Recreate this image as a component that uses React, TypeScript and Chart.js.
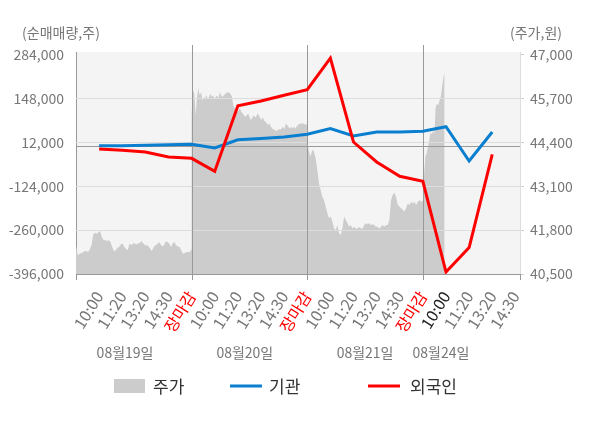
import { useEffect, useRef } from "react";
import { Chart, registerables } from "chart.js";

Chart.register(...registerables);

const FONT = "'Noto Sans CJK KR', 'Noto Sans', sans-serif";

// x axis: 19 labelled slots, 5 per trading day
const timeLabels = [
  "10:00", "11:20", "13:20", "14:30", "장마감",
  "10:00", "11:20", "13:20", "14:30", "장마감",
  "10:00", "11:20", "13:20", "14:30", "장마감",
  "10:00", "11:20", "13:20", "14:30",
];
const dayLabels = ["08월19일", "08월20일", "08월21일", "08월24일"];

// 순매매량 (shares)
const institution = [
  1000, 1500, 3000, 4500, 5800, -5600, 20000, 23500, 28400, 36800,
  54400, 31500, 43900, 43900, 46000, 60500, -46000, 43900,
];
const foreign = [
  -8700, -12800, -18000, -33500, -37600, -78000, 125000, 140000, 157600, 175000,
  273000, 12900, -49000, -93300, -108800, -389800, -314200, -25200,
];

// 주가 (won), intraday
const priceDay1 = [
  41350, 41060, 41090, 41120, 41140, 41180, 41180, 41150, 41230, 41350,
  41670, 41720, 41690, 41740, 41770, 41590, 41500, 41500, 41480, 41500,
  41450, 41300, 41170, 41200, 41280, 41300, 41380, 41400, 41300, 41250,
  41200, 41400, 41350, 41400, 41400, 41380, 41400, 41420, 41480, 41400,
  41350, 41350, 41320, 41250, 41180, 41300, 41350, 41380, 41450, 41380,
  41320, 41350, 41470, 41450, 41400, 41300, 41400, 41450, 41350, 41320,
  41300, 41200, 41100, 41120, 41150, 41150, 41150, 41250,
];
const priceDay2 = [
  45200, 45940, 45840, 45200, 45740, 45990, 45790, 45890, 45640, 45740,
  45690, 45790, 45690, 45740, 45840, 45740, 45790, 45690, 45740, 45790,
  45690, 45890, 45790, 45740, 45790, 45840, 45860, 45890, 45860, 45840,
  45740, 45500, 45400, 45350, 45300, 45350, 45400, 45300, 45250, 45200,
  45160, 45200, 45250, 45160, 45060, 45110, 45200, 45160, 45140, 45250,
  45200, 45110, 45060, 45140, 45040, 45010, 44960, 44910, 44960, 44860,
  44810, 44770, 44770, 44720, 44770, 44790, 44770, 44810, 44860, 44790,
  44960, 44910, 44860, 44810, 44860, 44810, 44860, 44810, 44860, 44910,
  44940, 44960, 44960, 44960, 44940, 44910, 44960,
];
const priceDay3 = [
  44420, 44130, 43980, 44180, 44130, 43930, 43580, 43190, 42990, 42790,
  42690, 42500, 42300, 42150, 42200, 42050, 41850, 41800, 41950, 41710,
  41660, 41850, 42200, 42100, 42000, 41900, 41950, 41850, 41900, 41850,
  41850, 41900, 41850, 41850, 41950, 42000, 41980, 42000, 41950, 41970,
  41950, 41900, 41900, 41850, 41900, 41950, 41900, 41950, 41950, 42100,
  42690, 42840, 42910, 42790, 42540, 42500, 42450, 42400, 42350, 42450,
  42590, 42540, 42640, 42590, 42640, 42540, 42640, 42690, 42640, 42670,
];
const priceDay4 = [
  43490, 43980, 44080, 44270, 44470, 44710, 44620, 44760, 44660, 45440,
  45540, 45490, 45640, 45740, 46030, 46320, 46470,
];

const leftTicks = [-396000, -260000, -124000, 12000, 148000, 284000];
const rightTicks = [40500, 41800, 43100, 44400, 45700, 47000];

const X_MAX = 19.2;
const DAY = 5;

const priceFullDay = (arr: number[], day: number) =>
  arr.map((v, i) => ({ x: day * DAY + (i * DAY) / (arr.length - 1), y: v }));
const pricePoints = [
  ...priceFullDay(priceDay1, 0),
  ...priceFullDay(priceDay2, 1),
  ...priceFullDay(priceDay3, 2),
  ...priceDay4.map((v, i) => ({ x: 3 * DAY + ((i + 1) * 0.94) / priceDay4.length, y: v })),
];
const slot = (arr: number[]) => arr.map((v, i) => ({ x: i + 1, y: v }));

const tickColor = (i: number) =>
  timeLabels[i] === "장마감" ? "#ff0000" : i === 15 ? "#222222" : "#777777";

const decor = {
  id: "decor",
  beforeDraw(chart: any) {
    const { ctx, chartArea: a } = chart;
    ctx.save();
    ctx.fillStyle = "#f4f4f4";
    ctx.fillRect(a.left, a.top, a.right - a.left, a.bottom - a.top);
    ctx.restore();
  },
  afterDatasetDraw(chart: any, args: any) {
    if (args.index !== 0) return;
    const { ctx, chartArea: a, scales } = chart;
    const y = scales.y;
    const x = scales.x;
    ctx.save();
    ctx.lineWidth = 1;
    ctx.strokeStyle = "#dddddd";
    leftTicks.slice(1, -1).forEach((t) => {
      const py = Math.round(y.getPixelForValue(t)) + 0.5;
      ctx.beginPath();
      ctx.moveTo(a.left, py);
      ctx.lineTo(a.right, py);
      ctx.stroke();
    });
    ctx.strokeStyle = "#999999";
    const zy = Math.round(y.getPixelForValue(0)) + 0.5;
    ctx.beginPath();
    ctx.moveTo(a.left, zy);
    ctx.lineTo(a.right, zy);
    ctx.stroke();
    [DAY, 2 * DAY, 3 * DAY].forEach((v) => {
      const px = Math.round(x.getPixelForValue(v)) + 0.5;
      ctx.beginPath();
      ctx.moveTo(px, a.top - 7);
      ctx.lineTo(px, a.bottom + 6);
      ctx.stroke();
    });
    [a.left, a.right].forEach((p) => {
      const px = Math.round(p) + 0.5;
      ctx.beginPath();
      ctx.moveTo(px, a.bottom);
      ctx.lineTo(px, a.bottom + 6);
      ctx.stroke();
    });
    ctx.restore();
  },
  afterDraw(chart: any) {
    const { ctx, chartArea: a, scales } = chart;
    ctx.save();
    ctx.fillStyle = "#777777";
    ctx.font = `14px ${FONT}`;
    ctx.textBaseline = "middle";
    ctx.textAlign = "center";
    ctx.fillText("(순매매량,주)", 61, 33);
    ctx.fillText("(주가,원)", 536, 33);

    const dayAt = [2.12, 7.3, 12.5, 15.78];
    dayLabels.forEach((t, i) => {
      ctx.fillText(t, scales.x.getPixelForValue(dayAt[i]), a.bottom + 79);
    });

    // legend
    const ly = 386;
    const lx = [114, 230, 368];
    ctx.font = `17px ${FONT}`;
    ctx.textAlign = "left";
    chart.data.datasets.forEach((ds: any, i: number) => {
      const bx = lx[i];
      if (i === 0) {
        ctx.fillStyle = ds.backgroundColor;
        ctx.fillRect(bx, ly - 7, 31, 14);
      } else {
        ctx.strokeStyle = ds.borderColor;
        ctx.lineWidth = 3;
        ctx.beginPath();
        ctx.moveTo(bx, ly);
        ctx.lineTo(bx + 32, ly);
        ctx.stroke();
      }
      ctx.fillStyle = "#333333";
      ctx.fillText(ds.label, bx + (i === 2 ? 42 : 39), ly + 1);
    });
    ctx.restore();
  },
};

const App = () => {
  const canvasRef = useRef<HTMLCanvasElement | null>(null);

  useEffect(() => {
    document.body.style.margin = "0";
    if (!canvasRef.current) return;
    const chart = new Chart(canvasRef.current, {
      type: "line",
      data: {
        datasets: [
          {
            label: "주가",
            data: pricePoints,
            yAxisID: "y2",
            fill: "start",
            backgroundColor: "#cccccc",
            borderColor: "#cccccc",
            borderWidth: 0,
            pointRadius: 0,
            tension: 0,
            order: 2,
          },
          {
            label: "기관",
            data: slot(institution),
            yAxisID: "y",
            borderColor: "#0a7fd0",
            borderWidth: 3,
            pointRadius: 0,
            fill: false,
            order: 1,
          },
          {
            label: "외국인",
            data: slot(foreign),
            yAxisID: "y",
            borderColor: "#ff0000",
            borderWidth: 3,
            pointRadius: 0,
            fill: false,
            order: 0,
          },
        ],
      },
      options: {
        animation: false,
        responsive: false,
        maintainAspectRatio: false,
        layout: { padding: { top: 52, left: 0, right: 0, bottom: 0 } },
        plugins: { legend: { display: false }, tooltip: { enabled: false } },
        scales: {
          x: {
            type: "linear",
            min: 0,
            max: X_MAX,
            afterBuildTicks: (s: any) => {
              s.ticks = timeLabels.map((_, i) => ({ value: i + 1 }));
            },
            afterFit: (s: any) => {
              s.height = 154;
            },
            grid: { display: false, drawTicks: false },
            border: { display: true, color: "#999999" },
            ticks: {
              autoSkip: false,
              minRotation: 58,
              maxRotation: 58,
              padding: 14,
              font: { family: FONT, size: 16 },
              color: (c: any) => tickColor(c.index),
              callback: (_v: any, i: number) => timeLabels[i],
            },
          },
          y: {
            position: "left",
            min: -396000,
            max: 291800,
            afterBuildTicks: (s: any) => {
              s.ticks = leftTicks.map((v) => ({ value: v }));
            },
            afterFit: (s: any) => {
              s.width = 76;
            },
            grid: { display: false, drawTicks: false },
            border: { display: true, color: "#999999" },
            ticks: {
              padding: 12,
              font: { family: FONT, size: 14 },
              color: "#777777",
              callback: (v: any) => Number(v).toLocaleString("en-US"),
            },
          },
          y2: {
            position: "right",
            min: 40500,
            max: 47074,
            afterBuildTicks: (s: any) => {
              s.ticks = rightTicks.map((v) => ({ value: v }));
            },
            afterFit: (s: any) => {
              s.width = 80;
            },
            grid: { drawOnChartArea: false, drawTicks: true, tickLength: 4, color: "#cccccc" },
            border: { display: true, color: "#dddddd" },
            ticks: {
              padding: 6,
              font: { family: FONT, size: 14 },
              color: "#777777",
              callback: (v: any) => Number(v).toLocaleString("en-US"),
            },
          },
        },
      },
      plugins: [decor],
    });
    return () => {
      chart.destroy();
    };
  }, []);

  return (
    <div style={{ width: 600, height: 428 }}>
      <canvas ref={canvasRef} width={600} height={428} style={{ width: 600, height: 428 }} />
    </div>
  );
};

export default App;
